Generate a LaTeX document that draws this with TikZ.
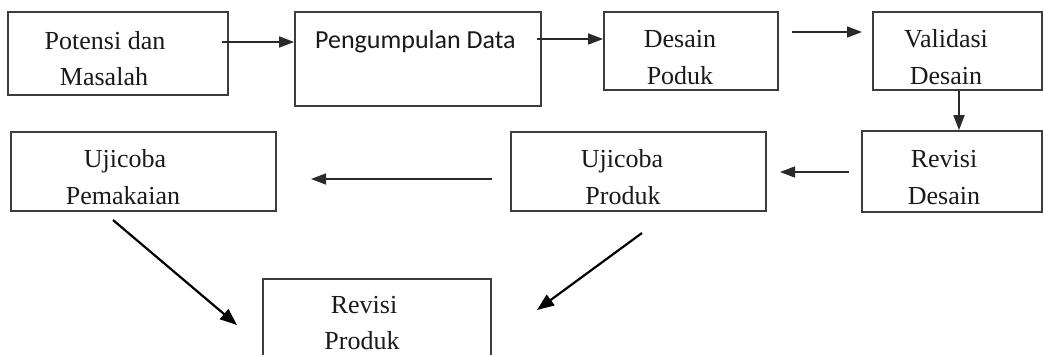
\documentclass[tikz,border=0pt]{standalone}
\usepackage{fontspec}
\setmainfont{Liberation Serif}
\newfontfamily\calibrifont{Carlito}
\usetikzlibrary{arrows.meta}
\definecolor{boxcol}{HTML}{3C3C3C}
\definecolor{arrcol}{HTML}{2A2A2A}
\definecolor{txtcol}{HTML}{1A1A1A}
\begin{document}
\begin{tikzpicture}[x=1pt,y=-1pt,
  box/.style={draw=boxcol, line width=1.8pt, inner sep=0pt},
  txt/.style={inner sep=0pt, anchor=base, font=\fontsize{26}{37}\selectfont, text=txtcol},
  arr/.style={draw=arrcol, line width=1.5pt, -{Triangle[length=15pt,width=11pt]}},
  darr/.style={draw=black, line width=2.2pt, -{Triangle[length=17pt,width=13pt]}}]
\path[use as bounding box, fill=white] (0,0) rectangle (1043,354);
\clip (0,0) rectangle (1043,354);
% boxes
\node[box, minimum width=220pt, minimum height=83pt] (b1) at (118,53.5) {};
\node[box, minimum width=246pt, minimum height=94pt] (b2) at (418,59) {};
\node[box, minimum width=174pt, minimum height=78pt] (b3) at (691,51) {};
\node[box, minimum width=169pt, minimum height=78pt] (b4) at (957.5,51) {};
\node[box, minimum width=265pt, minimum height=79pt] (b5) at (143.5,171.5) {};
\node[box, minimum width=255pt, minimum height=79pt] (b6) at (638.5,171.5) {};
\node[box, minimum width=180pt, minimum height=81pt] (b7) at (952,171.5) {};
\node[box, minimum width=228pt, minimum height=101pt] (b8) at (377,329.5) {};
% texts
\node[txt] (t1a) at (105,49) {Potensi dan};
\node[txt] (t1b) at (104,85) {Masalah};
\node[txt, anchor=base west, font=\calibrifont\fontsize{26}{37}\selectfont] (t2) at (315,48) {Pengumpulan Data};
\node[txt] (t3a) at (680,47) {Desain};
\node[txt] (t3b) at (680,84) {Poduk};
\node[txt] (t4a) at (946,47) {Validasi};
\node[txt] (t4b) at (946,84) {Desain};
\node[txt] (t5a) at (125,167) {Ujicoba};
\node[txt] (t5b) at (123,204) {Pemakaian};
\node[txt] (t6a) at (622,167) {Ujicoba};
\node[txt] (t6b) at (623,204) {Produk};
\node[txt] (t7a) at (944,167) {Revisi};
\node[txt] (t7b) at (944,204) {Desain};
\node[txt] (t8a) at (364,313) {Revisi};
\node[txt] (t8b) at (362,349) {Produk};
% connectors
\coordinate (a1s) at (222,42);
\draw[arr] (a1s) -- (a1s -| b2.west);
\coordinate (a2s) at (537,39);
\draw[arr] (a2s) -- (a2s -| b3.west);
\coordinate (a3s) at (792,32);
\coordinate (a3e) at (862,32);
\draw[arr] (a3s) -- (a3e);
\coordinate (a4x) at (959,0);
\draw[arr, line width=1.8pt] (a4x |- b4.south) -- (a4x |- b7.north);
\coordinate (a5s) at (849,172);
\coordinate (a5e) at (780,172);
\draw[arr] (a5s) -- (a5e);
\coordinate (a6s) at (492,179);
\coordinate (a6e) at (311,179);
\draw[arr] (a6s) -- (a6e);
\coordinate (a7s) at (113,220);
\coordinate (a7e) at (237,325);
\draw[darr] (a7s) -- (a7e);
\coordinate (a8s) at (642,233);
\coordinate (a8e) at (537,310);
\draw[darr] (a8s) -- (a8e);
\end{tikzpicture}
\end{document}
